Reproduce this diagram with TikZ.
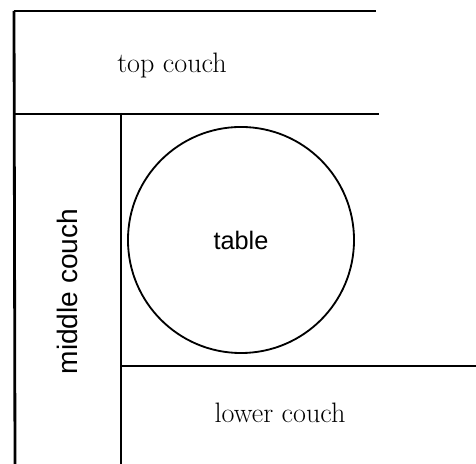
\documentclass[tikz,border=0pt]{standalone}
\usepackage{fontspec}
\newfontfamily\sanslabel{Liberation Sans}
\usepackage{tikz}
\usetikzlibrary{shapes,positioning}

\begin{document}
\begin{tikzpicture}[x=0.025cm,y=-0.025cm,
  wall/.style={line width=2pt},
  seam/.style={line width=1pt},
  serifname/.style={font=\fontsize{20}{24}\selectfont,anchor=base,inner sep=0pt},
  sansname/.style={font=\sanslabel\fontsize{20}{24}\selectfont,anchor=base,inner sep=0pt}]
\useasboundingbox (0,0) rectangle (476,464);
\coordinate (tl) at (14,11);
\coordinate (tr) at (376,11);
\coordinate (ml) at (15,114);
\coordinate (mr) at (379,114);
\coordinate (bl) at (15,464);
\coordinate (it) at (121,113);
\coordinate (ib) at (121,464);
\coordinate (ll) at (121,366);
\coordinate (lr) at (476,366);
\draw[wall] (tl) -- (tr);
\draw[wall] (ml) -- (mr);
\draw[wall] (tl) -- (bl);
\draw[seam] (it) -- (ib);
\draw[wall] (ll) -- (lr);
\node[circle,draw,line width=1.3pt,minimum size=5.65cm,inner sep=0pt,
  font=\sanslabel\fontsize{18}{22}\selectfont] (table) at (241,240) {table};
\node[serifname] (top) at (172,73) {top couch};
\node[serifname] (lower) at (280,423) {lower couch};
\node[sansname,rotate=90] (middle) at (77,291.5) {middle couch};
\end{tikzpicture}
\end{document}
